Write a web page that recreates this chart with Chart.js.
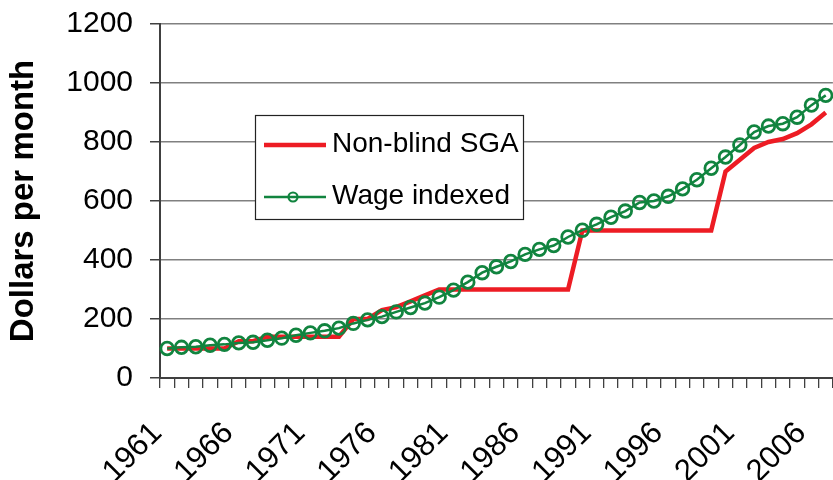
<!DOCTYPE html>
<html><head><meta charset="utf-8">
<script src="https://cdn.jsdelivr.net/npm/chart.js@4.4.1/dist/chart.umd.min.js"></script>
<style>
html,body{margin:0;padding:0;background:#fff;overflow:hidden;width:833px;height:480px}
#wrap{position:relative;width:842px;height:480px}
</style></head>
<body><div id="wrap"><canvas id="c" width="842" height="480"></canvas></div>
<script>
const years = ['1961','1962','1963','1964','1965','1966','1967','1968','1969','1970',
  '1971','1972','1973','1974','1975','1976','1977','1978','1979','1980',
  '1981','1982','1983','1984','1985','1986','1987','1988','1989','1990',
  '1991','1992','1993','1994','1995','1996','1997','1998','1999','2000',
  '2001','2002','2003','2004','2005','2006','2007'];
const nonBlindSGA = [100,100,100,100,100,125,125,140,140,140,
  140,140,140,200,200,230,240,260,280,300,
  300,300,300,300,300,300,300,300,300,500,
  500,500,500,500,500,500,500,500,500,700,
  740,780,800,810,830,860,900];
const wageIndexed = [100,104,106,111,114,119,121,128,135,145,
  153,160,169,185,197,208,224,239,254,274,
  298,325,357,377,395,419,436,449,478,501,
  521,545,566,595,600,616,641,672,711,749,
  790,834,854,862,884,925,958];
const shownYearLabels = ['1961','1966','1971','1976','1981','1986','1991','1996','2001','2006'];
const yTicks = [0,200,400,600,800,1000,1200];
const yTitle = 'Dollars per month';

const RED = '#ed1c24', GREEN = '#11843f';
const FONT = "'Liberation Sans', Arial, sans-serif";

const legendPlugin = {
  id: 'boxLegend',
  afterDraw(chart) {
    const ctx = chart.ctx;
    const x0 = 255, y0 = 115, w = 268, h = 104;
    ctx.save();
    ctx.fillStyle = '#fff';
    ctx.fillRect(x0, y0, w, h);
    ctx.strokeStyle = '#222';
    ctx.lineWidth = 1.2;
    ctx.strokeRect(x0 + 0.5, y0 + 0.5, w, h);
    const ds = chart.data.datasets;
    const rows = [{d: ds[0], y: 145}, {d: ds[1], y: 197}];
    rows.forEach(r => {
      ctx.strokeStyle = r.d.borderColor;
      ctx.lineWidth = r.d.borderWidth;
      ctx.beginPath(); ctx.moveTo(264, r.y); ctx.lineTo(326, r.y); ctx.stroke();
      if (r.d.pointRadius > 0) {
        ctx.lineWidth = 2.2;
        ctx.beginPath(); ctx.arc(293, r.y, 4.5, 0, Math.PI * 2); ctx.stroke();
      }
      ctx.fillStyle = '#000';
      ctx.font = '28px ' + FONT;
      ctx.textBaseline = 'middle';
      ctx.textAlign = 'left';
      ctx.fillText(r.d.label, 332, r.y - 1);
    });
    ctx.restore();
  }
};

new Chart(document.getElementById('c'), {
  type: 'line',
  data: {
    labels: years,
    datasets: [
      {label: 'Non-blind SGA', data: nonBlindSGA, borderColor: RED, borderWidth: 4.5,
       pointRadius: 0, tension: 0, order: 2, fill: false},
      {label: 'Wage indexed', data: wageIndexed, borderColor: GREEN, borderWidth: 2.5,
       pointRadius: 6.3, pointBorderWidth: 2.8, pointBorderColor: GREEN,
       pointBackgroundColor: 'rgba(0,0,0,0)', tension: 0, order: 1, fill: false}
    ]
  },
  options: {
    responsive: false, animation: false, devicePixelRatio: 1,
    layout: {padding: {left: 0, right: 0, top: 24, bottom: 0}},
    plugins: {legend: {display: false}, tooltip: {enabled: false}},
    scales: {
      x: {
        type: 'category', offset: true,
        grid: {display: true, drawOnChartArea: false, drawTicks: true, tickLength: 10,
               offset: true, color: '#404040', lineWidth: 1.3},
        border: {display: true, color: '#404040', width: 2},
        ticks: {autoSkip: false, maxRotation: 45, minRotation: 45, padding: 27, labelOffset: -10,
                color: '#000', font: {family: FONT, size: 31},
                callback: function(v) { const l = this.getLabelForValue(v); return shownYearLabels.includes(l) ? l : ''; }},
        afterFit: s => { s.height = 102; s.paddingLeft = 0; s.paddingRight = 0; }
      },
      y: {
        min: 0, max: 1200,
        afterBuildTicks: s => { s.ticks = yTicks.map(v => ({value: v})); },
        ticks: {padding: 17, color: '#000', font: {family: FONT, size: 30},
                callback: v => String(v)},
        grid: {color: '#808080', lineWidth: 1.5, tickLength: 10, tickColor: '#404040', drawTicks: true},
        border: {color: '#404040', width: 2},
        title: {display: true, text: yTitle, color: '#000', font: {family: FONT, size: 33, weight: 'bold'}},
        afterFit: s => { s.width = 160; s.paddingTop = 0; s.paddingBottom = 0; }
      }
    }
  },
  plugins: [legendPlugin]
});
</script></body></html>
